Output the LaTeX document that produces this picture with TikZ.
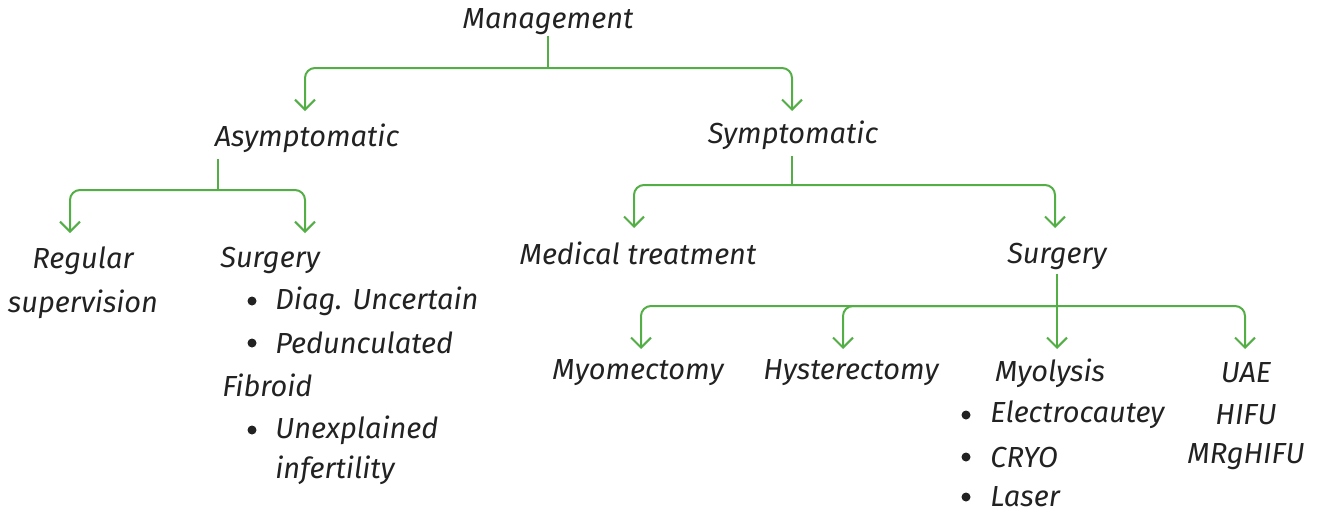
\documentclass[tikz,border=0pt]{standalone}
\usepackage{fontspec}
\setmainfont{Fira Sans}
\usetikzlibrary{arrows.meta}
\definecolor{lg}{HTML}{52AE45}
\definecolor{tx}{HTML}{222222}
\begin{document}
\begin{tikzpicture}[x=0.5pt,y=-0.5pt,
  lbl/.style={font=\fontsize{14.5}{17}\selectfont\itshape,text=tx,inner sep=0pt},
  lblw/.style={lbl,anchor=west},
  bul/.style={circle,fill=tx,inner sep=0pt,minimum size=4.5pt},
  conn/.style={draw=lg,line width=1pt,rounded corners=5pt},
  arr/.style={draw=lg,line width=1pt,-{Straight Barb[length=5pt,width=10pt,line width=1pt]}}]
\useasboundingbox (0,0) rectangle (1320,515);
% nodes
\node[lbl] (mgmt) at (548,22) {Management};
\node[lbl] (asym) at (307,138) {Asymptomatic};
\node[lbl] (sym) at (793,135) {Symptomatic};
\node[lbl,align=center] (reg) at (83,283) {Regular\\[5pt]supervision};
\node[lblw] (surgL) at (220,260) {Surgery};
\node[bul] (b1) at (252,301) {};
\node[lblw] (diag) at (275,301) {Diag. Uncertain};
\node[bul] (b2) at (252,343) {};
\node[lblw] (ped) at (275,343) {Pedunculated};
\node[lblw] (fib) at (222,385) {Fibroid};
\node[bul] (b3) at (252,430) {};
\node[lblw] (unex) at (275,430) {Unexplained};
\node[lblw] (inf) at (275,470) {infertility};
\node[lbl] (med) at (638,253) {Medical treatment};
\node[lbl] (surgR) at (1057,256) {Surgery};
\node[lbl] (myo) at (638,373) {Myomectomy};
\node[lbl] (hys) at (851,373) {Hysterectomy};
\node[lbl] (myl) at (1050,373) {Myolysis};
\node[bul] (b4) at (966,415) {};
\node[lblw] (ele) at (990,415) {Electrocautey};
\node[bul] (b5) at (966,457) {};
\node[lblw] (cry) at (990,457) {CRYO};
\node[bul] (b6) at (966,497) {};
\node[lblw] (las) at (990,497) {Laser};
\node[lbl] (uae) at (1246,373) {UAE};
\node[lbl] (hifu) at (1246,415) {HIFU};
\node[lbl] (mrg) at (1246,457) {MRgHIFU};
% junction coordinates
\coordinate (j1) at (548,68);
\coordinate (j2) at (218,190);
\coordinate (j3) at (792,185);
\coordinate (j4) at (1057,306);
\coordinate (e1) at (305,111);
\coordinate (e2) at (792,111);
\coordinate (e3) at (70,233);
\coordinate (e4) at (305,233);
\coordinate (e5) at (634,228);
\coordinate (e6) at (1055,228);
\coordinate (e7) at (641,349);
\coordinate (e8) at (843,349);
\coordinate (e9) at (1057,349);
\coordinate (e10) at (1245,349);
% connectors
\draw[conn] (mgmt.south -| j1) -- (j1);
\draw[conn,arr] (j1) -| (e1);
\draw[conn,arr] (j1) -| (e2);
\draw[conn] (asym.south -| j2) ++(0,6) -- (j2);
\draw[conn,arr] (j2) -| (e3);
\draw[conn,arr] (j2) -| (e4);
\draw[conn] (sym.south -| j3) ++(0,6) -- (j3);
\draw[conn,arr] (j3) -| (e5);
\draw[conn,arr] (j3) -| (e6);
\draw[conn,arr] (surgR.south -| j4) ++(0,4) -- (e9);
\draw[conn,arr] (j4) -| (e7);
\draw[conn,arr] (j4) -| (e8);
\draw[conn,arr] (j4) -| (e10);
\end{tikzpicture}
\end{document}
